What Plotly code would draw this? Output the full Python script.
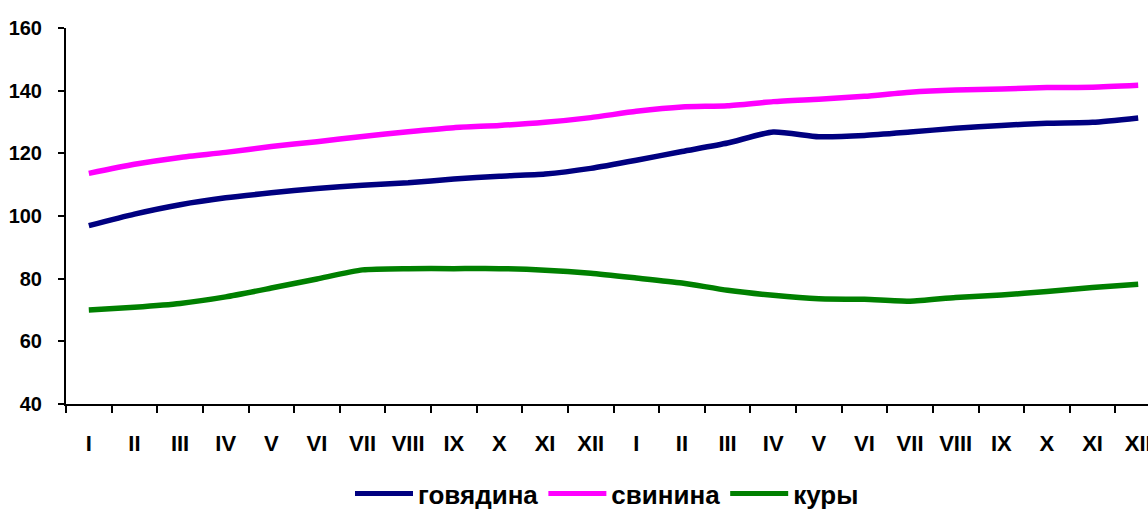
import plotly.graph_objects as go

# Monthly price index over two years
months = ["I", "II", "III", "IV", "V", "VI", "VII", "VIII", "IX", "X", "XI", "XII"]
month_labels = months + months

beef = [96.9, 100.6, 103.6, 105.8, 107.4, 108.8, 109.8, 110.6, 111.8, 112.7, 113.4, 115.2,
        117.8, 120.6, 123.3, 126.8, 125.3, 125.7, 126.8, 128.0, 128.9, 129.6, 129.9, 131.3]
pork = [113.6, 116.5, 118.7, 120.3, 122.2, 123.7, 125.4, 126.9, 128.2, 128.9, 129.9, 131.4,
        133.4, 134.8, 135.2, 136.5, 137.3, 138.2, 139.5, 140.2, 140.5, 141.0, 141.1, 141.7]
chicken = [70.0, 70.9, 72.1, 74.2, 77.0, 79.9, 82.8, 83.2, 83.2, 83.2, 82.7, 81.7,
           80.2, 78.6, 76.3, 74.7, 73.6, 73.4, 72.8, 74.0, 74.8, 75.9, 77.2, 78.2]

series = [
    ("говядина", beef, "#000080"),
    ("свинина", pork, "#FF00FF"),
    ("куры", chicken, "#008000"),
]

FONT = "Liberation Sans, Arial, sans-serif"

x = list(range(len(month_labels)))

fig = go.Figure()
for name, vals, color in series:
    fig.add_trace(go.Scatter(
        x=x, y=vals, name=name, mode="lines",
        line=dict(color=color, width=5.5, shape="spline", smoothing=0.6),
    ))

fig.update_layout(
    width=1148, height=517,
    margin=dict(l=66, r=0, t=28, b=113, autoexpand=False),
    paper_bgcolor="white", plot_bgcolor="white",
    showlegend=True,
    legend=dict(
        orientation="h", x=0.5, xanchor="center", y=-0.3005, yanchor="bottom",
        font=dict(family=FONT, size=26, color="black", weight="bold"),
        itemwidth=58, tracegroupgap=0, itemsizing="constant",
        borderwidth=0,
    ),
)

fig.update_xaxes(
    range=[-0.5, 23.215], automargin=False,
    tickmode="array", tickvals=x, ticktext=month_labels,
    ticks="outside", ticklen=6, tickcolor="rgba(0,0,0,0)",
    minor=dict(tickmode="linear", tick0=-0.5, dtick=1, ticks="outside",
               ticklen=7, tickcolor="black", tickwidth=2, showgrid=False),
    showline=True, linecolor="black", linewidth=2,
    showgrid=False, zeroline=False,
    tickfont=dict(family=FONT, size=22, color="black", weight="bold"),
    ticklabelstandoff=13, ticklabeloverflow="allow",
)

fig.update_yaxes(
    range=[40, 160], automargin=False,
    tickmode="array", tickvals=[40, 60, 80, 100, 120, 140, 160],
    ticks="outside", ticklen=6, tickcolor="black", tickwidth=2,
    showline=True, linecolor="black", linewidth=2,
    showgrid=False, zeroline=False,
    tickfont=dict(family=FONT, size=20, color="black", weight="bold"),
    ticklabelstandoff=12,
)

fig.write_html("out.html")
